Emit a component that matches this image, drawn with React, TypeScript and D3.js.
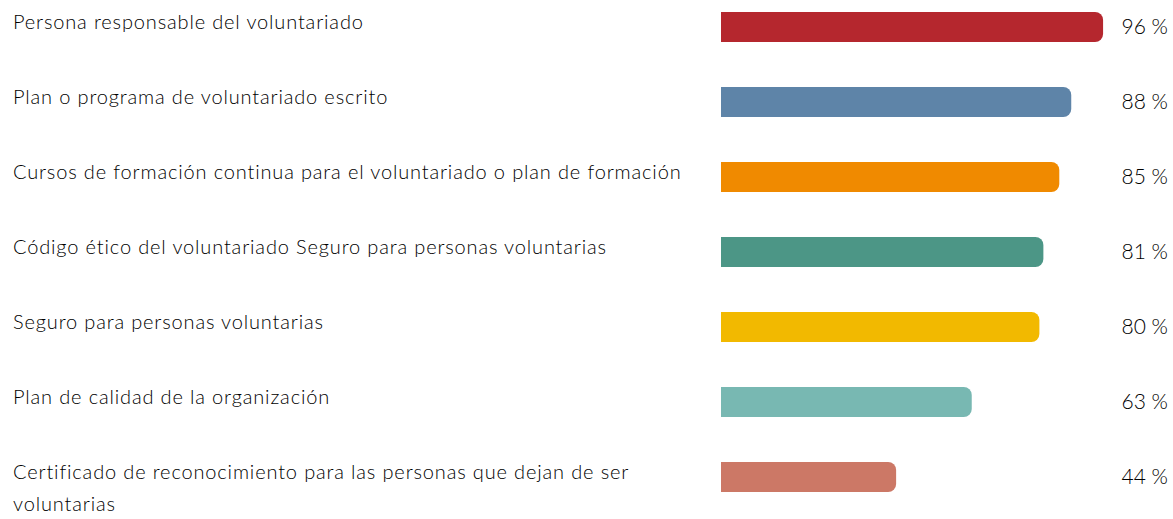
import React, { useEffect, useRef } from 'react';
import * as d3 from 'd3';

const categories = [
  'Persona responsable del voluntariado',
  'Plan o programa de voluntariado escrito',
  'Cursos de formación continua para el voluntariado o plan de formación',
  'Código ético del voluntariado Seguro para personas voluntarias',
  'Seguro para personas voluntarias',
  'Plan de calidad de la organización',
  'Certificado de reconocimiento para las personas que dejan de ser voluntarias',
];
const values = [96, 88, 85, 81, 80, 63, 44];
const colors = ['#b5272e', '#5e84a8', '#f08a00', '#4c9686', '#f2b900', '#78b8b2', '#cc7866'];

const W = 1173;
const H = 519;
const FONT = 'Lato, "Noto Sans", sans-serif';

// bar with square left end and rounded right end
function barPath(x0: number, x1: number, y: number, h: number, r: number) {
  return `M${x0},${y}H${x1 - r}A${r},${r} 0 0 1 ${x1},${y + r}V${y + h - r}A${r},${r} 0 0 1 ${x1 - r},${y + h}H${x0}Z`;
}

export default function App() {
  const ref = useRef<SVGSVGElement>(null);

  useEffect(() => {
    const svg = d3.select(ref.current);
    svg.selectAll('*').remove();

    const x = d3.scaleLinear().domain([0, 100]).range([721, 1119]);
    // row step 75, bar height 30, first bar top at 12
    const y = d3.scalePoint().domain(categories).range([12, 12 + 75 * (categories.length - 1)]);
    const barH = 30;

    svg.selectAll('path.bar')
      .data(categories)
      .join('path')
      .attr('class', 'bar')
      .attr('d', (c, i) => barPath(x(0), x(values[i]), y(c)!, barH, 8))
      .attr('fill', (c, i) => colors[i]);

    // value labels
    svg.selectAll('text.val')
      .data(values)
      .join('text')
      .attr('class', 'val')
      .attr('x', 1168)
      .attr('y', (d, i) => y(categories[i])! + barH / 2 + 6.5)
      .attr('text-anchor', 'end')
      .attr('font-family', FONT)
      .attr('font-weight', 300)
      .attr('font-size', 21)
      .attr('fill', '#000')
      .text((d) => `${d} %`);

    // category labels, wrapped
    const maxW = 690;
    categories.forEach((c) => {
      const t = svg.append('text')
        .attr('x', 13)
        .attr('y', y(c)! + barH / 2 + 2)
        .attr('font-family', FONT)
        .attr('font-weight', 300)
        .attr('font-size', 20)
        .attr('letter-spacing', 0.85)
        .attr('fill', '#000');
      const words = c.split(' ');
      let line: string[] = [];
      let tspan = t.append('tspan').attr('x', 13).attr('dy', 0);
      words.forEach((w) => {
        line.push(w);
        tspan.text(line.join(' '));
        if ((tspan.node() as SVGTSpanElement).getComputedTextLength() > maxW && line.length > 1) {
          line.pop();
          tspan.text(line.join(' '));
          line = [w];
          tspan = t.append('tspan').attr('x', 13).attr('dy', 32).text(w);
        }
      });
    });
  }, []);

  return (
    <svg
      ref={ref}
      width={W}
      height={H}
      style={{ position: 'absolute', left: 0, top: 0, background: '#fff' }}
    />
  );
}
